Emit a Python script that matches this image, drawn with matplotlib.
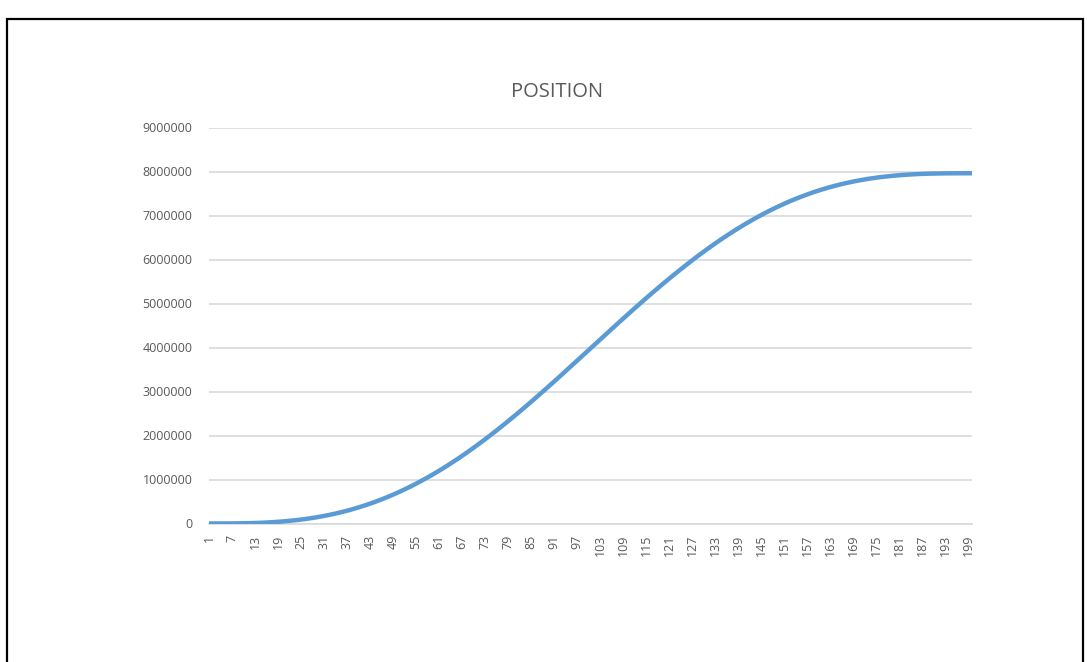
import matplotlib
matplotlib.use("Agg")
import matplotlib.pyplot as plt
from matplotlib.patches import Rectangle

# ---- data ----
categories = list(range(1, 201))
tick_labels = [str(c) for c in range(1, 201, 6)]
position = [
    0, 7, 53, 179, 425, 830, 1436, 2280, 3400, 4840,
    6610, 8790, 11400, 14480, 18060, 22180, 26870, 32180, 38140, 44770,
    52120, 60210, 69080, 78760, 89270, 100660, 112940, 126140, 140300, 155430,
    171550, 188720, 206930, 226210, 246570, 268050, 290650, 314400, 339310, 365400,
    392680, 421170, 450870, 481790, 513950, 547350, 582000, 617900, 655060, 693480,
    733170, 774110, 816320, 859790, 904520, 950490, 997710, 1046180, 1095860, 1146770,
    1198890, 1252210, 1306710, 1362380, 1419210, 1477170, 1536250, 1596430, 1657690, 1720010,
    1783370, 1847740, 1913100, 1979420, 2046680, 2114850, 2183900, 2253810, 2324540, 2396070,
    2468350, 2541370, 2615080, 2689450, 2764450, 2840050, 2916200, 2992880, 3070040, 3147650,
    3225670, 3304060, 3382790, 3461820, 3541100, 3620600, 3700280, 3780100, 3860020, 3939990,
    4020010, 4099980, 4179900, 4259720, 4339400, 4418900, 4498180, 4577210, 4655940, 4734330,
    4812350, 4889960, 4967120, 5043800, 5119950, 5195550, 5270550, 5344920, 5418630, 5491650,
    5563930, 5635460, 5706190, 5776100, 5845150, 5913320, 5980580, 6046900, 6112260, 6176630,
    6239990, 6302310, 6363570, 6423750, 6482830, 6540790, 6597620, 6653290, 6707790, 6761110,
    6813230, 6864140, 6913820, 6962290, 7009510, 7055480, 7100210, 7143680, 7185890, 7226830,
    7266520, 7304940, 7342100, 7378000, 7412650, 7446050, 7478210, 7509130, 7538830, 7567320,
    7594600, 7620690, 7645600, 7669350, 7691950, 7713430, 7733790, 7753070, 7771280, 7788450,
    7804570, 7819700, 7833860, 7847060, 7859340, 7870730, 7881240, 7890920, 7899790, 7907880,
    7915230, 7921860, 7927820, 7933130, 7937820, 7941940, 7945520, 7948600, 7951210, 7953390,
    7955160, 7956600, 7957720, 7958560, 7959170, 7959580, 7959820, 7959950, 7959990, 7960000,
]
y_ticks = [0, 1000000, 2000000, 3000000, 4000000, 5000000, 6000000, 7000000, 8000000, 9000000]
title = "POSITION"

# ---- styling ----
plt.rcParams['font.family'] = ['Open Sans', 'DejaVu Sans']
W, H = 1087, 662
fig = plt.figure(figsize=(W / 100, H / 100), dpi=100)
fig.patch.set_facecolor('white')

# outer border (chart frame)
fig.patches.append(Rectangle((7 / W, -0.05), (1083 - 7) / W, 1.05 - 19 / H,
                             transform=fig.transFigure, fill=False,
                             edgecolor='black', linewidth=1.6))

left, right = 209 / W, 972 / W
bottom, top = 1 - 523.5 / H, 1 - 127.5 / H
ax = fig.add_axes([left, bottom, right - left, top - bottom])

ax.plot(categories, position, color='#5B9BD5', linewidth=3.2,
        solid_capstyle='round', zorder=3)

ax.set_xlim(categories[0], categories[-1])
ax.set_ylim(y_ticks[0], y_ticks[-1])
ax.set_yticks(y_ticks)
ax.set_yticklabels([str(v) for v in y_ticks])
ax.set_xticks([int(t) for t in tick_labels])
ax.set_xticklabels(tick_labels, rotation=90)

ax.grid(axis='y', color='#D9D9D9', linewidth=1.2)
ax.set_axisbelow(True)
for s in ['top', 'right', 'left']:
    ax.spines[s].set_visible(False)
ax.spines['bottom'].set_color('#D9D9D9')
ax.spines['bottom'].set_linewidth(1.2)
ax.tick_params(axis='both', length=0, colors='#595959', labelsize=9)
ax.tick_params(axis='y', pad=12)
ax.tick_params(axis='x', pad=8)

fig.text(557.5 / W, 1 - 92 / H, title, ha='center', va='center',
         fontsize=14.5, color='#595959')

fig.savefig('out.png', dpi=100, facecolor='white')
